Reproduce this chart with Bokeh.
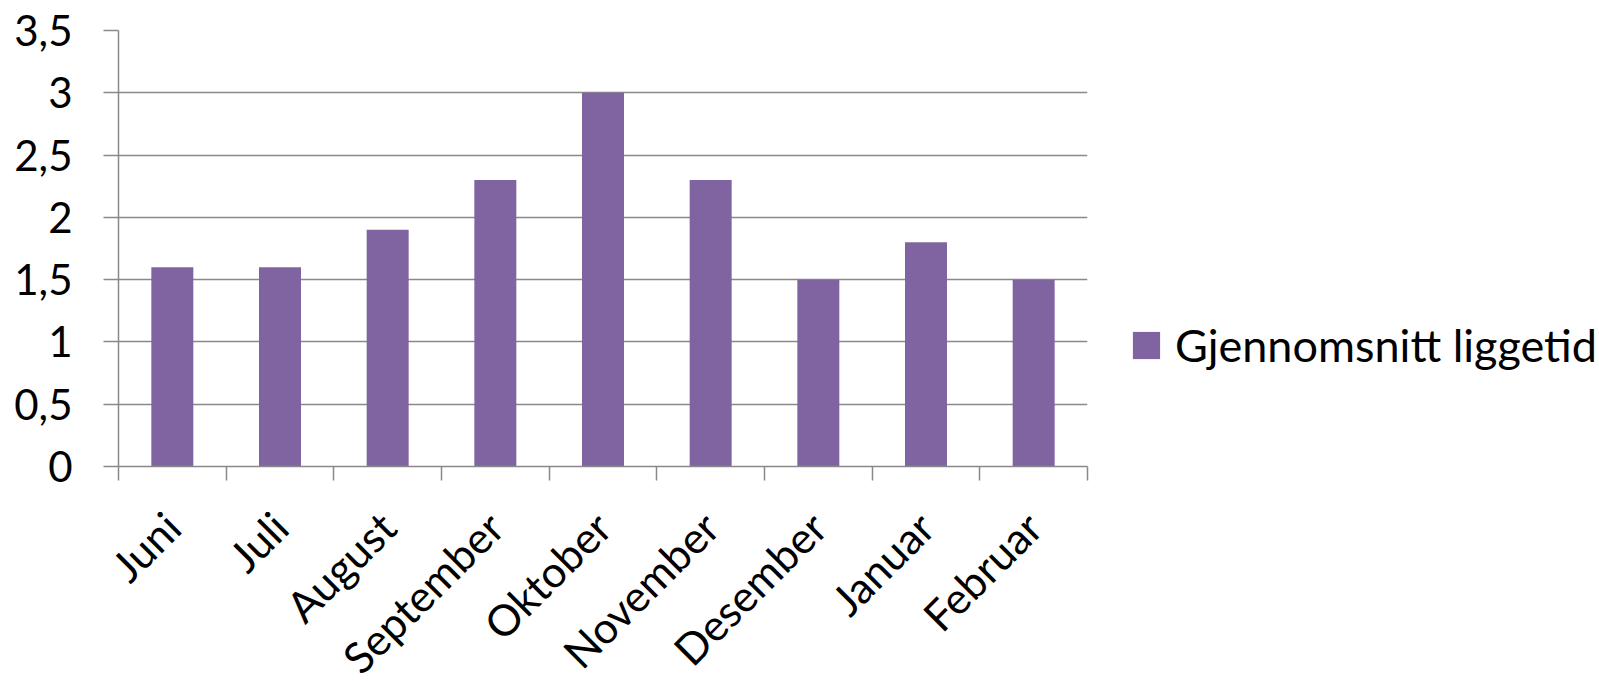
import math
from bokeh.plotting import figure
from bokeh.models import FixedTicker, CustomJSTickFormatter, ColumnDataSource, Legend, LegendItem, Range1d
from bokeh.embed import file_html
from bokeh.resources import INLINE

months = ["Juni", "Juli", "August", "September", "Oktober", "November", "Desember", "Januar", "Februar"]
values = [1.6, 1.6, 1.9, 2.3, 3.0, 2.3, 1.5, 1.8, 1.5]
series_name = "Gjennomsnitt liggetid"
y_ticks = [0, 0.5, 1, 1.5, 2, 2.5, 3, 3.5]

FONT = "Lato"
GRAY = "#898989"
BAR = "#8064A2"

xpos = [i + 0.5 for i in range(len(months))]
src = ColumnDataSource(dict(x=xpos, top=values))

p = figure(frame_width=969, frame_height=436, output_backend="svg", toolbar_location=None,
           x_range=Range1d(0, len(months)), y_range=Range1d(0, 3.5),
           min_border_left=118, min_border_top=30, min_border_bottom=215, min_border_right=0)
p.outline_line_color = None
p.background_fill_color = "white"
p.border_fill_color = "white"

r = p.vbar(x="x", top="top", width=0.39, source=src, fill_color=BAR, line_color=None)

# x axis
p.xaxis.ticker = FixedTicker(ticks=xpos, minor_ticks=list(range(len(months) + 1)))
p.xaxis.major_label_overrides = {xp: m for xp, m in zip(xpos, months)}
p.xaxis.major_tick_line_color = None
p.xaxis.minor_tick_line_color = GRAY
p.xaxis.minor_tick_line_width = 1.5
p.xaxis.minor_tick_in = 0
p.xaxis.minor_tick_out = 14
p.xaxis.axis_line_color = GRAY
p.xaxis.axis_line_width = 1.5
p.xaxis.major_label_orientation = math.pi / 4
p.xaxis.major_label_text_font = FONT
p.xaxis.major_label_text_font_size = "43px"
p.xaxis.major_label_text_color = "black"
p.xaxis.major_label_standoff = 39
p.xgrid.grid_line_color = None

# y axis
p.yaxis.ticker = FixedTicker(ticks=y_ticks)
p.yaxis.formatter = CustomJSTickFormatter(code="return tick.toString().replace('.', ',');")
p.yaxis.major_tick_line_color = GRAY
p.yaxis.major_tick_line_width = 1.5
p.yaxis.major_tick_in = 0
p.yaxis.major_tick_out = 15
p.yaxis.minor_tick_line_color = None
p.yaxis.axis_line_color = GRAY
p.yaxis.axis_line_width = 1.5
p.yaxis.major_label_text_font = FONT
p.yaxis.major_label_text_font_size = "42px"
p.yaxis.major_label_text_color = "black"
p.yaxis.major_label_standoff = 31
p.ygrid.grid_line_color = GRAY
p.ygrid.grid_line_width = 1.5

legend = Legend(items=[LegendItem(label=series_name, renderers=[r])],
                location=(42, 94), padding=0, margin=0,
                glyph_width=34, glyph_height=34, label_standoff=12,
                label_text_font=FONT, label_text_font_size="45px", label_text_color="black",
                border_line_color=None, background_fill_alpha=0)
p.add_layout(legend, "right")

open("out.html", "w").write(file_html(p, INLINE))
